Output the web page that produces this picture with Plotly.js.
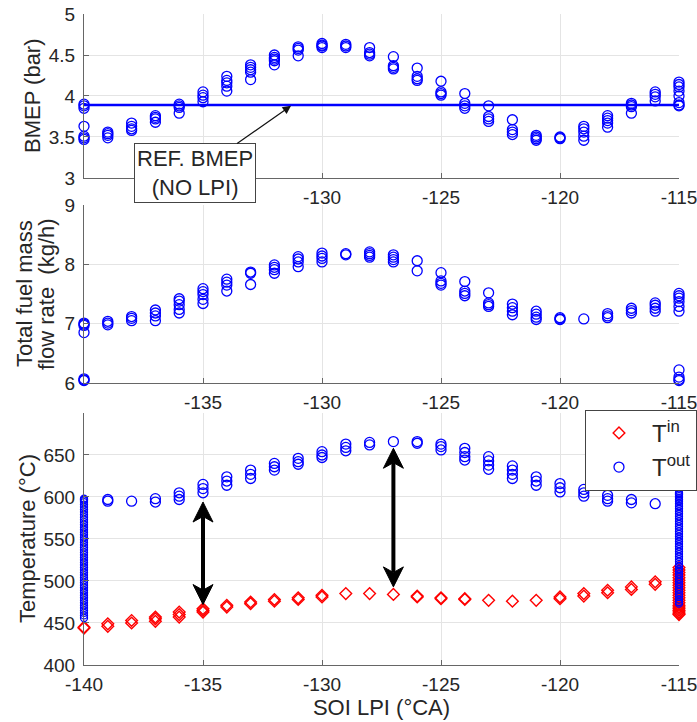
<!DOCTYPE html>
<html>
<head>
<meta charset="utf-8">
<script src="https://cdn.plot.ly/plotly-3.0.1.min.js"></script>
<style>html,body{margin:0;padding:0;background:#fff;}#chart{width:697px;height:722px;}</style>
</head>
<body>
<div id="chart"></div>
<script>
// ---- data ----
const soiLPI = [-140,-139,-138,-137,-136,-135,-134,-133,-132,-131,-130,-129,-128,
                -127,-126,-125,-124,-123,-122,-121,-120,-119,-118,-117,-116,-115];
const xTicksTop = [-130,-125,-120,-115];          // labelled ticks, top panel
const xTicksMid = [-135,-130,-125,-120,-115];     // labelled ticks, middle panel
const xTicksBot = [-140,-135,-130,-125,-120,-115];// labelled ticks, bottom panel

// BMEP (bar), several cycles per SOI
const bmepRuns = [
  [3.90,3.88,3.85,3.63,3.51,3.49,3.47],
  [3.56,3.54,3.52,3.49],
  [3.67,3.63,3.60,3.58],
  [3.76,3.74,3.72,3.68],
  [3.90,3.88,3.86,3.79],
  [4.05,4.01,3.98,3.93],
  [4.24,4.19,4.16,4.12,4.06],
  [4.38,4.35,4.32,4.29,4.20],
  [4.50,4.47,4.45,4.43,4.38],
  [4.60,4.58,4.56,4.49],
  [4.64,4.62,4.61,4.59],
  [4.63,4.61,4.59],
  [4.59,4.53,4.51,4.49],
  [4.48,4.37,4.35,4.33],
  [4.34,4.24,4.21,4.19],
  [4.18,4.05,4.03,4.01],
  [4.03,3.91,3.88,3.85],
  [3.88,3.75,3.72,3.69],
  [3.71,3.59,3.56,3.53],
  [3.52,3.50,3.48,3.46],
  [3.50,3.49,3.48],
  [3.63,3.60,3.56,3.51,3.46],
  [3.76,3.73,3.70,3.67,3.62],
  [3.91,3.89,3.87,3.79],
  [4.05,4.02,3.99,3.94],
  [4.17,4.14,4.11,4.06,4.00,3.92,3.89,3.88]
];
const refBmep = 3.89;   // REF. BMEP (NO LPI)

// Total fuel mass flow rate (kg/h)
const fuelRuns = [
  [7.01,6.99,6.97,6.85,6.07,6.05,6.04],
  [7.04,7.01,6.98],
  [7.12,7.09,7.05],
  [7.23,7.18,7.13,7.05],
  [7.42,7.38,7.32,7.24,7.18],
  [7.59,7.54,7.49,7.41,7.34],
  [7.75,7.70,7.65,7.55],
  [7.87,7.85,7.66],
  [7.99,7.95,7.91,7.85],
  [8.13,8.09,8.04,7.96],
  [8.19,8.14,8.10,8.04],
  [8.18,8.16],
  [8.21,8.18,8.15,8.12],
  [8.16,8.12,8.08,8.04],
  [8.06,7.89],
  [7.86,7.72,7.68,7.65],
  [7.71,7.55,7.51,7.47],
  [7.52,7.35,7.32,7.29],
  [7.33,7.27,7.21,7.15],
  [7.21,7.16,7.11,7.07],
  [7.10,7.08,7.07],
  [7.08],
  [7.17,7.13,7.10],
  [7.26,7.22,7.18],
  [7.35,7.31,7.26,7.21],
  [7.51,7.47,7.43,7.37,7.29,7.21,6.22,6.10,6.06,6.04]
];

// Temperatures (°C)
const tInRuns = [
  [445,444],[449,446],[453,450],[457,455,452],[463,460,457],[467,465,463],
  [471,469],[475,473],[478,476],[480,478],[483,481],[485],[485],[484],
  [482,481],[480,479],[479,478],[477],[476],[477],[481,479],[485,482],
  [489,486],[493,490],[499,496],[]
];
const tInEdge115 = [516,513,510,507,504,501,498,495,492,489,486,483,480,477,474,
                    471,469,467,465,463,461,460];
const tOutRuns = [
  [],[597,595],[595],[598,594],[605,601,597],[615,610,605],[624,619,614],
  [632,627,622],[640,636,632],[646,642,639],[654,650,647],[663,659,655],
  [665,662],[666],[666,664],[663,660,656],[658,653,648,644],[648,643,638,633],
  [637,632,627,622],[624,619,614],[616,611,606],[609,605,601],[602,598,595],
  [597,593],[592],[]
];
const tOutEdge140 = [598,597,596,594,591,588,585,582,579,576,573,570,567,564,561,
                     558,555,552,549,546,543,540,537,534,531,528,525,522,519,516,
                     513,510,507,504,501,498,495,492,489,486,483,480,477,474,471,
                     468,465,462,459,456];
const tOutEdge115 = [605,604,603,601,599,597,595,592,589,586,583,580,577,574,571,
                     568,565,562,559,556,553,550,547,544,541,538,535,532,529,526,
                     523,520,517,514,511,508,505,502,499,496,493,490,487,484,481,
                     478,475,473];

// gap arrows between T_out and T_in
const gapArrowSoi = [-135, -127];
const gapArrowTop = [594, 658];
const gapArrowBottom = [472, 493];

// ---- helpers ----
function flat(runs) {
  const xs = [], ys = [];
  runs.forEach((vals, i) => vals.forEach(v => { xs.push(soiLPI[i]); ys.push(v); }));
  return {x: xs, y: ys};
}
const BLUE = 'rgb(0,0,255)';
const RED = 'rgb(255,0,0)';
const FONT = 'Liberation Sans, Arial, Helvetica, sans-serif';
const TXT = '#262626';

const W = 697, H = 722;
const M = {l: 84, r: 18, t: 14, b: 57};
const plotW = W - M.l - M.r, plotH = H - M.t - M.b;
const domTop = [0.7481, 1], domMid = [0.4332, 0.7066], domBot = [0, 0.3871];
const rangeBot = [400, 700];

const bm = flat(bmepRuns), fu = flat(fuelRuns), ti = flat(tInRuns), to = flat(tOutRuns);
const xFirst = soiLPI[0], xLast = soiLPI[soiLPI.length - 1];

const circ = (size) => ({symbol: 'circle-open', size: size, color: BLUE, line: {color: BLUE, width: 1.3}});
const diam = (size) => ({symbol: 'diamond-open', size: size, color: RED, line: {color: RED, width: 1.4}});

const traces = [
  {x: bm.x, y: bm.y, xaxis: 'x', yaxis: 'y', mode: 'markers', marker: circ(10), showlegend: false, cliponaxis: false},
  {x: [xFirst, xLast], y: [refBmep, refBmep], xaxis: 'x', yaxis: 'y', mode: 'lines',
   line: {color: BLUE, width: 2.5}, showlegend: false, cliponaxis: false},
  {x: fu.x, y: fu.y, xaxis: 'x2', yaxis: 'y2', mode: 'markers', marker: circ(10), showlegend: false, cliponaxis: false},
  {x: ti.x, y: ti.y, xaxis: 'x3', yaxis: 'y3', mode: 'markers', marker: diam(9),
   name: 'T<sup>in</sup>', legendgroup: 'tin', cliponaxis: false},
  {x: tInEdge115.map(() => xLast), y: tInEdge115, xaxis: 'x3', yaxis: 'y3', mode: 'markers',
   marker: diam(9), legendgroup: 'tin', showlegend: false, cliponaxis: false},
  {x: to.x, y: to.y, xaxis: 'x3', yaxis: 'y3', mode: 'markers', marker: circ(10),
   name: 'T<sup>out</sup>', legendgroup: 'tout', cliponaxis: false},
  {x: tOutEdge140.map(() => xFirst), y: tOutEdge140, xaxis: 'x3', yaxis: 'y3', mode: 'markers',
   marker: circ(7), legendgroup: 'tout', showlegend: false, cliponaxis: false},
  {x: tOutEdge115.map(() => xLast), y: tOutEdge115, xaxis: 'x3', yaxis: 'y3', mode: 'markers',
   marker: circ(7), legendgroup: 'tout', showlegend: false, cliponaxis: false}
];

const AXC = '#666';
const GRID = '#e4e4e4';
const allXTicks = [-140,-135,-130,-125,-120,-115];
function xAx(anchor, labelled, extra) {
  const hidden = allXTicks.filter(v => labelled.indexOf(v) < 0);
  const ax = {
    anchor: anchor, domain: [0, 1], range: [xFirst, xLast],
    tickmode: 'array', tickvals: labelled, ticktext: labelled.map(String),
    ticks: 'inside', ticklen: 5, tickcolor: AXC, showline: true, linecolor: AXC, linewidth: 1,
    showgrid: true, gridcolor: GRID, zeroline: false, ticklabeloverflow: 'allow', ticklabelstandoff: 2,
    tickfont: {family: FONT, size: 19, color: TXT}, fixedrange: true
  };
  if (hidden.length) {
    ax.minor = {tickmode: 'array', tickvals: hidden, ticks: 'inside', ticklen: 5, tickcolor: AXC,
                showgrid: true, gridcolor: GRID};
  }
  return Object.assign(ax, extra || {});
}
function yAx(anchor, domain, range, tickvals) {
  return {
    anchor: anchor, domain: domain, range: range, tickmode: 'array', tickvals: tickvals,
    ticktext: tickvals.map(String),
    ticks: 'inside', ticklen: 5, tickcolor: AXC, showline: true, linecolor: AXC, linewidth: 1,
    showgrid: true, gridcolor: GRID, zeroline: false, ticklabelstandoff: 4,
    tickfont: {family: FONT, size: 19, color: TXT}, fixedrange: true
  };
}

// double-headed arrows drawn as shapes (line + two notched heads)
const pxPerX = plotW / (xLast - xFirst);
const pxPerYBot = plotH * (domBot[1] - domBot[0]) / (rangeBot[1] - rangeBot[0]);
const headLen = 20, headHalf = 10, notch = 0.72;
const shapes = [];
gapArrowSoi.forEach((sx, i) => {
  const yt = gapArrowTop[i], yb = gapArrowBottom[i];
  const dx = headHalf / pxPerX, dy = headLen / pxPerYBot;
  shapes.push({type: 'line', xref: 'x3', yref: 'y3', x0: sx, x1: sx, y0: yb + dy * notch, y1: yt - dy * notch,
               line: {color: '#000', width: 4}});
  shapes.push({type: 'path', xref: 'x3', yref: 'y3', fillcolor: '#000', line: {color: '#000', width: 1},
               path: `M ${sx} ${yt} L ${sx - dx} ${yt - dy} L ${sx} ${yt - dy * notch} L ${sx + dx} ${yt - dy} Z`});
  shapes.push({type: 'path', xref: 'x3', yref: 'y3', fillcolor: '#000', line: {color: '#000', width: 1},
               path: `M ${sx} ${yb} L ${sx - dx} ${yb + dy} L ${sx} ${yb + dy * notch} L ${sx + dx} ${yb + dy} Z`});
});

const titleFont = {family: FONT, size: 22, color: TXT};
const yTitle = (text, xpx, dom) => ({
  xref: 'paper', yref: 'paper', x: 0, xshift: xpx - M.l, y: (dom[0] + dom[1]) / 2,
  xanchor: 'center', yanchor: 'middle', textangle: -90, text: text, showarrow: false, font: titleFont
});

const layout = {
  width: W, height: H,
  margin: {l: M.l, r: M.r, t: M.t, b: M.b, autoexpand: false},
  paper_bgcolor: '#fff', plot_bgcolor: '#fff',
  font: {family: FONT, color: TXT},
  showlegend: true,
  legend: {x: 0.842, xanchor: 'left', y: 0.392, yanchor: 'top', bgcolor: '#fff',
           bordercolor: '#444', borderwidth: 1, itemwidth: 56,
           font: {family: FONT, size: 24, color: TXT}, tracegroupgap: 0},
  xaxis: xAx('y', xTicksTop),
  xaxis2: xAx('y2', xTicksMid),
  xaxis3: xAx('y3', xTicksBot, {title: {text: 'SOI LPI (°CA)', font: titleFont, standoff: 4}}),
  yaxis: yAx('x', domTop, [3, 5], [3, 3.5, 4, 4.5, 5]),
  yaxis2: yAx('x2', domMid, [6, 9], [6, 7, 8, 9]),
  yaxis3: yAx('x3', domBot, rangeBot, [400, 450, 500, 550, 600, 650]),
  shapes: shapes,
  annotations: [
    yTitle('BMEP (bar)', 33, domTop),
    yTitle('Total fuel mass', 25, domMid),
    yTitle('flow rate  (kg/h)', 47, domMid),
    yTitle('Temperature (°C)', 28, domBot),
    {xref: 'x', yref: 'y', x: -131.30, y: 3.88, axref: 'x', ayref: 'y', ax: -135.34, ay: 3.06,
     text: 'REF. BMEP<br>(NO LPI)', showarrow: true, arrowhead: 2, arrowsize: 1.4, arrowwidth: 1.2,
     arrowcolor: '#111', bgcolor: '#fff', bordercolor: '#444', borderwidth: 1, borderpad: 2,
     font: {family: FONT, size: 22, color: TXT}}
  ]
};

Plotly.newPlot('chart', traces, layout, {staticPlot: true, displayModeBar: false});
</script>
</body>
</html>
